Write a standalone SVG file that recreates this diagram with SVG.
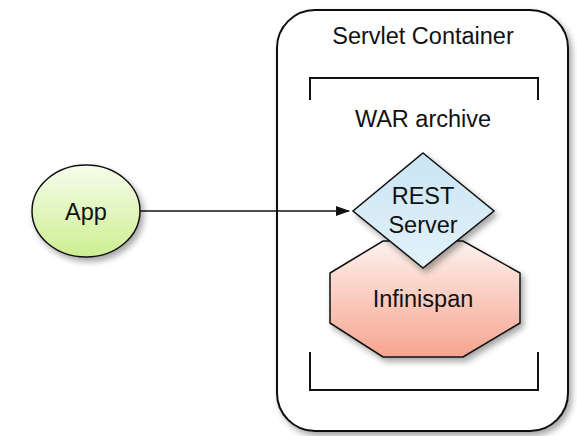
<svg xmlns="http://www.w3.org/2000/svg" width="577" height="436" viewBox="0 0 577 436">
<style>
text{font-family:"Liberation Sans",Arial,sans-serif;font-size:23.5px;fill:#111;text-anchor:middle}
.ln{fill:none;stroke:#111;stroke-width:2}
</style>
<defs>
<filter id="sh" x="-20%" y="-20%" width="150%" height="150%">
<feGaussianBlur in="SourceAlpha" stdDeviation="3"/>
<feOffset dx="3" dy="4" result="b"/>
<feComponentTransfer><feFuncA type="linear" slope="0.35"/></feComponentTransfer>
<feMerge><feMergeNode/><feMergeNode in="SourceGraphic"/></feMerge>
</filter>
<linearGradient id="gApp" x1="0" y1="0" x2="0" y2="1"><stop offset="0" stop-color="#f6fdec"/><stop offset="1" stop-color="#cdee90"/></linearGradient>
<linearGradient id="gRest" x1="0" y1="0" x2="0" y2="1"><stop offset="0" stop-color="#c9e4f2"/><stop offset="1" stop-color="#e3f3fb"/></linearGradient>
<linearGradient id="gInf" x1="0" y1="0" x2="0" y2="1"><stop offset="0" stop-color="#fdf2ee"/><stop offset="1" stop-color="#f6a48f"/></linearGradient>
<marker id="ah" markerWidth="14" markerHeight="10" refX="13" refY="5" orient="auto" markerUnits="userSpaceOnUse"><path d="M0,0 L14,5 L0,10 Z" fill="#111"/></marker>
</defs>
<g id="container">
<rect x="277" y="10" width="291" height="421" rx="38" ry="38" fill="#fff" stroke="#111" stroke-width="2" filter="url(#sh)"/>
<text x="423" y="44">Servlet Container</text>
</g>
<g id="war">
<path class="ln" d="M310,100 V78 H538 V100"/>
<path class="ln" d="M310,352 V390 H538 V352"/>
<text x="423" y="127">WAR archive</text>
</g>
<g id="infinispan">
<polygon points="383,241 463,241 520,273 520,323 463,357 383,357 330,323 330,273" fill="url(#gInf)" stroke="#111" stroke-width="1.5" filter="url(#sh)"/>
<text x="423" y="307">Infinispan</text>
</g>
<g id="rest">
<polygon points="423,153 494,211 423,268 353,211" fill="url(#gRest)" stroke="#111" stroke-width="1.5" filter="url(#sh)"/>
<text x="423" y="204">REST</text>
<text x="423" y="233">Server</text>
</g>
<g id="app">
<ellipse cx="86" cy="211" rx="54" ry="46" fill="url(#gApp)" stroke="#111" stroke-width="1.5" filter="url(#sh)"/>
<text x="86" y="220">App</text>
</g>
<g id="connectors">
<line x1="140" y1="211" x2="349" y2="211" stroke="#111" stroke-width="1.5" marker-end="url(#ah)"/>
</g>
</svg>
